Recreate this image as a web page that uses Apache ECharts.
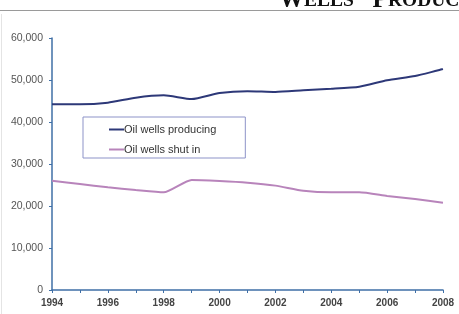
<!DOCTYPE html>
<html>
<head>
<meta charset="utf-8">
<script src="https://cdn.jsdelivr.net/npm/echarts@6/dist/echarts.min.js"></script>
<style>
  html, body { margin: 0; padding: 0; background: #fff; }
  #chart { width: 459px; height: 314px; }
</style>
</head>
<body>
<div id="chart"></div>
<script>
// years on the x axis
const years = ["1994", "1995", "1996", "1997", "1998", "1999", "2000", "2001",
  "2002", "2003", "2004", "2005", "2006", "2007", "2008"];
// wells
const producing = [44200, 44200, 44600, 45800, 46350, 45450, 46900, 47350,
  47150, 47550, 47900, 48400, 49950, 50950, 52600];
const shutIn = [26000, 25250, 24450, 23800, 23250, 26200, 25950, 25550,
  24850, 23650, 23250, 23250, 22400, 21650, 20800];
const seriesNames = ["Oil wells producing", "Oil wells shut in"];

const chart = echarts.init(document.getElementById("chart"));
const axisBlue = "#3f6fa6";

const option = {
  animation: false,
  title: {
    // small caps heading, cut off at the right edge
    text: "{b|W}{s|ELLS}{b|\u00a0\u00a0\u00a0P}{s|RODUC}",
    left: 279,
    top: -12,
    padding: 0,
    textStyle: {
      rich: {
        b: { fontFamily: "Liberation Serif", fontSize: 25, lineHeight: 25, color: "#111", fontWeight: "bold" },
        s: { fontFamily: "Liberation Serif", fontSize: 19.5, lineHeight: 25, color: "#111", fontWeight: "bold" }
      }
    }
  },
  graphic: [
    {
      type: "line",
      shape: { x1: 0, y1: 10.5, x2: 459, y2: 10.5 },
      style: { stroke: "#9a9a9a", lineWidth: 1 }
    },
    {
      type: "line",
      shape: { x1: 1.5, y1: 14, x2: 1.5, y2: 314 },
      style: { stroke: "#e4e4e4", lineWidth: 1 }
    }
  ],
  legend: {
    data: seriesNames,
    orient: "vertical",
    left: 83,
    top: 117,
    padding: [7, 29, 3, 26],
    itemGap: 9,
    itemWidth: 15,
    itemHeight: 2,
    icon: "rect",
    borderColor: "#8d93c8",
    borderWidth: 1,
    borderRadius: 0,
    textStyle: { fontFamily: "Liberation Sans", fontSize: 11, color: "#333", padding: [0, 0, 0, -5] }
  },
  grid: { left: 52, right: 16, top: 38, bottom: 24, containLabel: false },
  xAxis: {
    type: "category",
    data: years,
    boundaryGap: false,
    axisLine: { lineStyle: { color: axisBlue, width: 1.5 } },
    axisTick: { interval: 0, length: 3, lineStyle: { color: axisBlue } },
    axisLabel: {
      interval: 1,
      margin: 8,
      fontFamily: "Liberation Sans",
      fontSize: 10,
      fontWeight: "bold",
      color: "#444"
    },
    splitLine: { show: false }
  },
  yAxis: {
    type: "value",
    min: 0,
    max: 60000,
    interval: 10000,
    axisLine: { show: true, lineStyle: { color: axisBlue, width: 1.5 } },
    axisTick: { show: true, length: 3, lineStyle: { color: axisBlue } },
    axisLabel: {
      margin: 9,
      fontFamily: "Liberation Sans",
      fontSize: 10.5,
      color: "#555",
      formatter: v => v.toLocaleString("en-US")
    },
    splitLine: { show: false }
  },
  series: [
    {
      name: seriesNames[0],
      type: "line",
      data: producing,
      symbol: "none",
      smooth: 0.2,
      itemStyle: { color: "#2d3878" },
      lineStyle: { color: "#2d3878", width: 2 }
    },
    {
      name: seriesNames[1],
      type: "line",
      data: shutIn,
      symbol: "none",
      smooth: 0.2,
      itemStyle: { color: "#b884bb" },
      lineStyle: { color: "#b884bb", width: 2 }
    }
  ]
};
chart.setOption(option);
</script>
</body>
</html>
